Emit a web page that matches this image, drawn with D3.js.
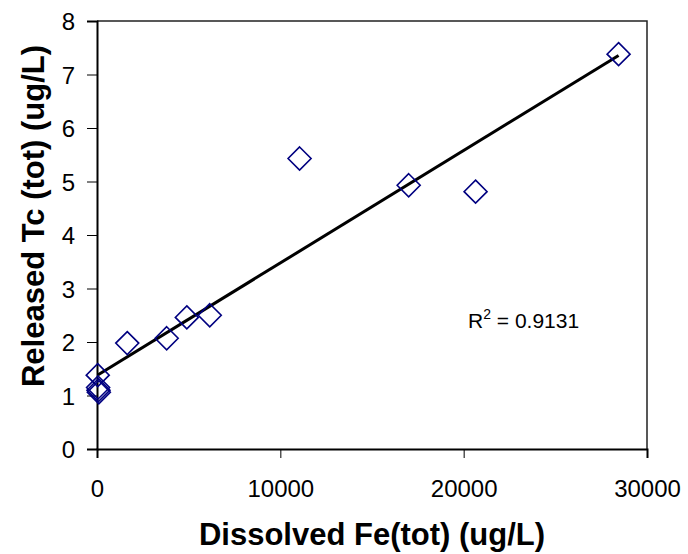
<!DOCTYPE html>
<html>
<head>
<meta charset="utf-8">
<script src="https://cdn.jsdelivr.net/npm/d3@7"></script>
<style>
  html, body { margin: 0; padding: 0; background: #fff; }
  svg { display: block; font-family: Arial, "Liberation Sans", sans-serif; }
</style>
</head>
<body>
<svg id="chart" width="688" height="554"></svg>
<script>
// Dissolved iron vs. released technetium, one sample per entry
const feDissolved = [40, 60, 80, 100, 1650, 3800, 4900, 6150, 11050, 17000, 20650, 28450];
const tcReleased  = [1.38, 1.15, 1.10, 1.06, 1.98, 2.07, 2.46, 2.50, 5.43, 4.93, 4.81, 7.38];

const xTicks = [0, 10000, 20000, 30000];
const yTicks = [0, 1, 2, 3, 4, 5, 6, 7, 8];
const xTitle = "Dissolved Fe(tot) (ug/L)";
const yTitle = "Released Tc (tot) (ug/L)";
const rSquaredText = "0.9131";

const svg = d3.select("#chart");
const plotLeft = 97, plotRight = 647, plotTop = 21, plotBottom = 449;

const x = d3.scaleLinear().domain([0, 30000]).range([plotLeft, plotRight]);
const y = d3.scaleLinear().domain([0, 8]).range([plotBottom, plotTop]);

// Plot frame (top and right edges)
svg.append("path")
  .attr("d", `M${plotLeft},${plotTop}H${plotRight}V${plotBottom}`)
  .attr("fill", "none").attr("stroke", "#222").attr("stroke-width", 1.5);

// Axes
const xAxis = svg.append("g").attr("transform", `translate(0,${plotBottom})`)
  .call(d3.axisBottom(x).tickValues(xTicks).tickFormat(d3.format("d")).tickSizeOuter(0).tickSize(9).tickPadding(22));
const yAxis = svg.append("g").attr("transform", `translate(${plotLeft},0)`)
  .call(d3.axisLeft(y).tickValues(yTicks).tickFormat(d3.format("d")).tickSizeOuter(0).tickSize(10).tickPadding(12));

[xAxis, yAxis].forEach(g => {
  g.select(".domain").attr("stroke", "#000").attr("stroke-width", 2);
  g.selectAll(".tick line").attr("stroke", "#000").attr("stroke-width", 1);
  g.selectAll(".tick text").attr("font-size", 24).attr("fill", "#000")
    .attr("font-family", "Arial, 'Liberation Sans', sans-serif");
});
yAxis.selectAll(".tick text").attr("dy", "0.36em");

// Least-squares trend line over the data range
const n = feDissolved.length;
const mx = d3.mean(feDissolved), my = d3.mean(tcReleased);
let sxy = 0, sxx = 0;
for (let i = 0; i < n; i++) {
  sxy += (feDissolved[i] - mx) * (tcReleased[i] - my);
  sxx += (feDissolved[i] - mx) ** 2;
}
const slope = sxy / sxx, intercept = my - slope * mx;
const [x0, x1] = d3.extent(feDissolved);
svg.append("line")
  .attr("x1", x(x0)).attr("y1", y(intercept + slope * x0))
  .attr("x2", x(x1)).attr("y2", y(intercept + slope * x1))
  .attr("stroke", "#000").attr("stroke-width", 3);

// Open diamond markers
const half = 11.5;
svg.append("g").selectAll("path")
  .data(feDissolved.map((v, i) => [v, tcReleased[i]]))
  .join("path")
  .attr("d", d => `M${x(d[0])},${y(d[1]) - half}L${x(d[0]) + half},${y(d[1])}L${x(d[0])},${y(d[1]) + half}L${x(d[0]) - half},${y(d[1])}Z`)
  .attr("fill", "none").attr("stroke", "#000080").attr("stroke-width", 1.6);

// R-squared annotation
const r2 = svg.append("text").attr("x", 468).attr("y", 328)
  .attr("font-size", 21).attr("fill", "#000");
r2.append("tspan").text("R");
r2.append("tspan").attr("font-size", 14).attr("dy", -9).text("2");
r2.append("tspan").attr("dy", 9).text(" = " + rSquaredText);

// Axis titles
svg.append("text").attr("x", 372).attr("y", 545).attr("text-anchor", "middle")
  .attr("font-size", 31).attr("font-weight", "bold").text(xTitle);
svg.append("text").attr("transform", "translate(44,216) rotate(-90)")
  .attr("text-anchor", "middle").attr("font-size", 31).attr("font-weight", "bold").text(yTitle);
</script>
</body>
</html>
